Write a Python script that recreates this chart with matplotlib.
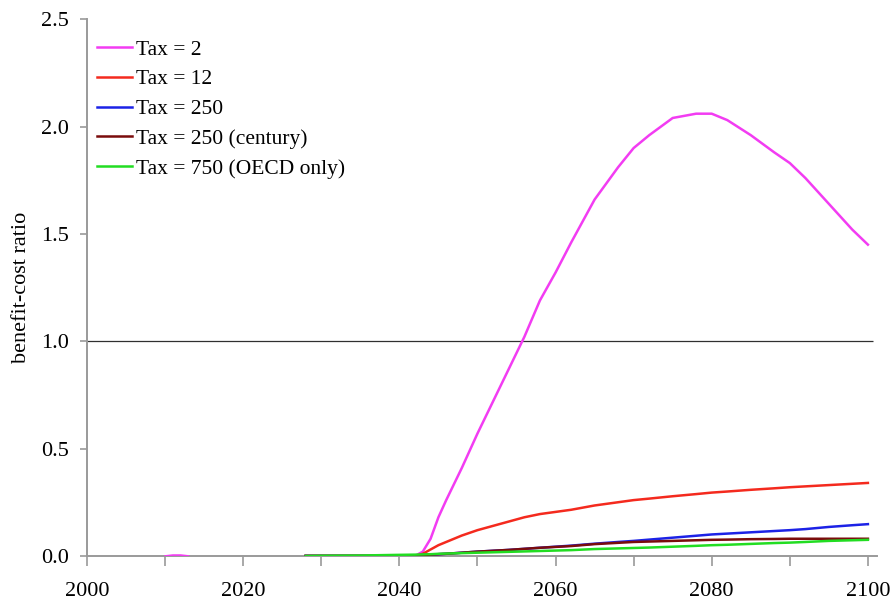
import numpy as np
import matplotlib
matplotlib.use("Agg")
import matplotlib.pyplot as plt
from matplotlib.ticker import MultipleLocator

plt.rcParams['font.family'] = ['Liberation Serif', 'DejaVu Serif']

# ------------------------- data -------------------------
years = [2028, 2030, 2035, 2040, 2042, 2043, 2044, 2045, 2046, 2048, 2050,
         2052, 2054, 2056, 2058, 2060, 2062, 2065, 2068, 2070, 2072, 2075,
         2078, 2080, 2082, 2085, 2088, 2090, 2092, 2095, 2098, 2100]

tax_2 = [0.0, 0.0, 0.0, 0.0, 0.0, 0.02, 0.08, 0.18, 0.26, 0.41, 0.57,
         0.72, 0.87, 1.02, 1.19, 1.32, 1.46, 1.66, 1.81, 1.90, 1.96, 2.04,
         2.06, 2.06, 2.03, 1.96, 1.88, 1.83, 1.76, 1.64, 1.52, 1.45]
tax_12 = [0.0, 0.0, 0.0, 0.0, 0.0, 0.01, 0.03, 0.05, 0.065, 0.095, 0.12,
          0.14, 0.16, 0.18, 0.195, 0.205, 0.215, 0.235, 0.25, 0.26, 0.267, 0.278,
          0.288, 0.295, 0.30, 0.308, 0.315, 0.32, 0.324, 0.33, 0.336, 0.34]
tax_250 = [0.0, 0.0, 0.0, 0.0, 0.002, 0.004, 0.006, 0.008, 0.01, 0.015, 0.02,
           0.024, 0.028, 0.033, 0.038, 0.043, 0.048, 0.057, 0.065, 0.07, 0.076, 0.085,
           0.094, 0.10, 0.104, 0.11, 0.116, 0.12, 0.125, 0.135, 0.143, 0.148]
tax_250_century = [0.0, 0.0, 0.0, 0.0, 0.002, 0.004, 0.006, 0.008, 0.01, 0.015, 0.02,
                   0.024, 0.028, 0.033, 0.038, 0.042, 0.046, 0.055, 0.061, 0.065, 0.067, 0.07,
                   0.073, 0.075, 0.076, 0.078, 0.079, 0.08, 0.08, 0.08, 0.08, 0.08]
tax_750_oecd = [0.0, 0.001, 0.002, 0.005, 0.006, 0.007, 0.008, 0.01, 0.011, 0.013, 0.015,
                0.017, 0.019, 0.021, 0.023, 0.025, 0.027, 0.032, 0.035, 0.037, 0.039, 0.043,
                0.047, 0.05, 0.052, 0.056, 0.06, 0.062, 0.065, 0.07, 0.073, 0.075]

# small early blip of the Tax = 2 run
blip_years = [2010, 2011, 2012, 2013]
blip_tax_2 = [0.0, 0.004, 0.004, 0.0]

labels = ["Tax = 2", "Tax = 12", "Tax = 250", "Tax = 250 (century)", "Tax = 750 (OECD only)"]
colors = ["#f23cf2", "#f42a1e", "#1c22e6", "#7a0c0c", "#22dd22"]
series = [tax_2, tax_12, tax_250, tax_250_century, tax_750_oecd]

# ------------------------- plot -------------------------
fig = plt.figure(figsize=(8.95, 6.01), dpi=100)
ax = fig.add_axes([0.0972, 0.075, 0.883, 0.893])

ax.hlines(1.0, 2000, 2100.6, color="#303030", lw=0.9, zorder=1)

for vals, lab, col in zip(series, labels, colors):
    ax.plot(years, vals, color=col, lw=1.8, label=lab, zorder=3)
ax.plot(blip_years, blip_tax_2, color=colors[0], lw=1.2, zorder=3)

ax.set_xlim(2000, 2101.2)
ax.set_ylim(0, 2.5)
ax.xaxis.set_major_locator(MultipleLocator(20))
ax.xaxis.set_minor_locator(MultipleLocator(10))
ax.yaxis.set_major_locator(MultipleLocator(0.5))
ax.yaxis.set_major_formatter(plt.FormatStrFormatter("%.1f"))

for side in ["top", "right"]:
    ax.spines[side].set_visible(False)
for side in ["left", "bottom"]:
    ax.spines[side].set_color("#9a9a9a")
    ax.spines[side].set_linewidth(1.4)

ax.tick_params(axis="both", which="both", direction="out", color="#9a9a9a",
               labelsize=16, width=1.2)
ax.tick_params(axis="x", which="both", length=7, pad=12)
ax.tick_params(axis="y", length=5, pad=8)

ax.set_ylabel("benefit-cost ratio", fontsize=16, labelpad=7)

ax.legend(loc="upper left", frameon=False, fontsize=15.5, handlelength=1.6,
          handletextpad=0.2, labelspacing=0.45, borderaxespad=0.3,
          bbox_to_anchor=(-0.006, 0.99))

fig.savefig("out.png", dpi=100)
